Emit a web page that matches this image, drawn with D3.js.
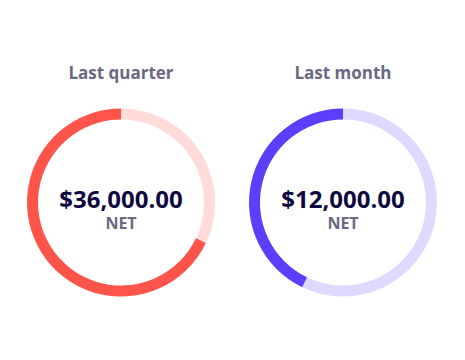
<!DOCTYPE html>
<html>
<head>
<meta charset="utf-8">
<script src="https://cdn.jsdelivr.net/npm/d3@7"></script>
<style>
  body { margin: 0; background: #fff; }
  text { font-family: "Open Sans", sans-serif; font-weight: 700; }
</style>
</head>
<body>
<svg id="mysvg" width="465" height="360"></svg>
<script>
// chart data
const periods = ["Last quarter", "Last month"];
const netValues = [36000, 12000];
const remainValues = [17000, 16000];
const colors = ["#ff5449", "#5b3ffc"];
const lightColors = ["#ffdcd9", "#dedaff"];

const width = 465,
  height = 360;

const svg = d3.select("#mysvg").attr("width", width).attr("height", height);

// position of each ring
const x_Scale = d3.scalePoint().domain(periods).range([121, 343]);
const cy = 202.5;
const outerR = 94,
  innerR = 83;

const arc = d3.arc().innerRadius(innerR).outerRadius(outerR);
const fmt = d3.format("$,.2f");

periods.forEach((p, i) => {
  const g = svg
    .append("g")
    .attr("transform", `translate(${x_Scale(p)},${cy})`);

  // remainder first (clockwise from top), then net value
  const pie = d3.pie().sort(null).value((d) => d.v);
  const slices = pie([
    { k: "rest", v: remainValues[i] },
    { k: "net", v: netValues[i] },
  ]);

  g.selectAll("path")
    .data(slices)
    .join("path")
    .attr("d", arc)
    .attr("fill", (d) => (d.data.k === "net" ? colors[i] : lightColors[i]));

  // title
  g.append("text")
    .attr("y", -124)
    .attr("text-anchor", "middle")
    .style("font-size", "17px")
    .attr("fill", "#6b6883")
    .text(p);

  // value
  g.append("text")
    .attr("y", 5.5)
    .attr("text-anchor", "middle")
    .style("font-size", "24px")
    .attr("fill", "#0e0840")
    .text(fmt(netValues[i]));

  g.append("text")
    .attr("y", 26)
    .attr("text-anchor", "middle")
    .style("font-size", "16px")
    .attr("fill", "#6b6883")
    .text("NET");
});
</script>
</body>
</html>
